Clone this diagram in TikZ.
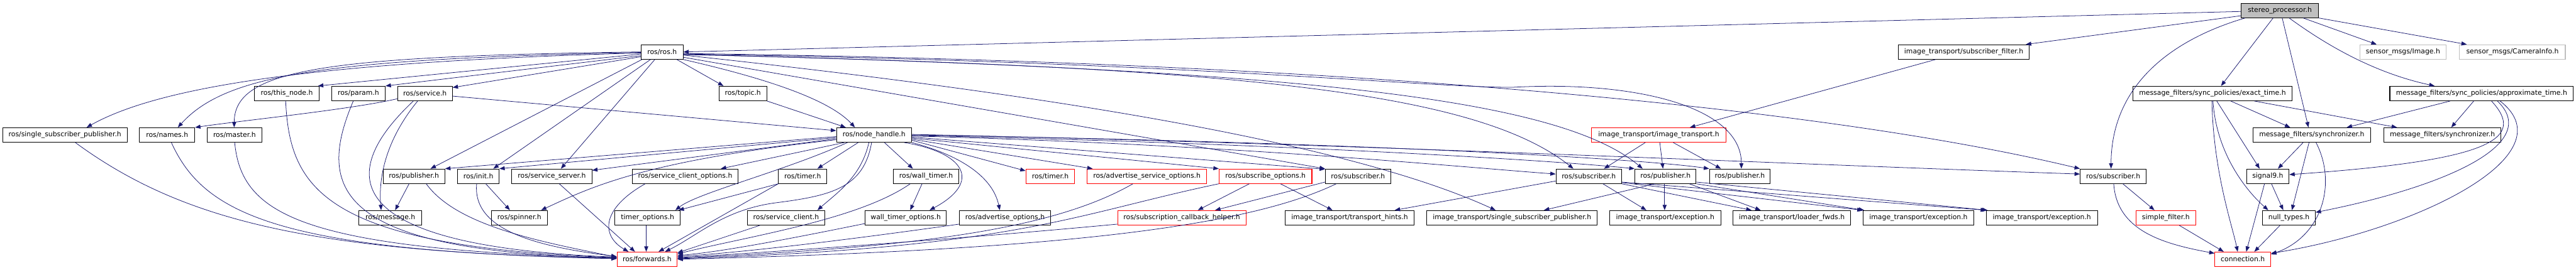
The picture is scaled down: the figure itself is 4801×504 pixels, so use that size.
\documentclass[tikz,border=0pt]{standalone}
\usepackage{fontspec}
\setmainfont{DejaVu Sans}
\usetikzlibrary{arrows.meta}
\definecolor{edgecol}{RGB}{25,25,112}
\definecolor{graybox}{RGB}{191,191,191}
\begin{document}
\begin{tikzpicture}[x=1pt,y=-1pt,
  box/.style={draw=black,line width=1.2pt,fill=white,minimum height=27pt,inner sep=0pt,font=\fontsize{12.7}{15}\selectfont,text=black},
  redbox/.style={box,draw=red},
  lgbox/.style={box,draw=graybox},
  e/.style={draw=edgecol,line width=0.9pt,-{Triangle[length=10pt,width=7.5pt]}}]
\useasboundingbox (0,0) rectangle (4801,504);
% row 0
\node[box,fill=graybox,minimum width=144pt] (sp) at (4249,19.5) {stereo\_processor.h};
% row 1
\node[box,minimum width=78pt] (ros) at (1234,97) {ros/ros.h};
\node[box,minimum width=244pt] (itsf) at (3660,97) {image\_transport/subscriber\_filter.h};
\node[lgbox,minimum width=161pt] (smimg) at (4478.5,97) {sensor\_msgs/Image.h};
\node[lgbox,minimum width=197pt] (smci) at (4682.5,97) {sensor\_msgs/CameraInfo.h};
% row 2
\node[box,minimum width=121pt] (thisnode) at (534.5,174.5) {ros/this\_node.h};
\node[box,minimum width=100pt] (param) at (668,174.5) {ros/param.h};
\node[box,minimum width=102pt] (service) at (792,174.5) {ros/service.h};
\node[box,minimum width=89pt] (topic) at (1384.5,174.5) {ros/topic.h};
\node[box,minimum width=297pt] (et) at (4123.5,174.5) {message\_filters/sync\_policies/exact\_time.h};
\node[box,minimum width=342pt] (at) at (4625,174.5) {message\_filters/sync\_policies/approximate\_time.h};
% row 3
\node[box,minimum width=232pt] (ssp) at (121,252) {ros/single\_subscriber\_publisher.h};
\node[box,minimum width=103pt] (names) at (311.5,252) {ros/names.h};
\node[box,minimum width=102pt] (master) at (437,252) {ros/master.h};
\node[box,minimum width=140pt] (nh) at (1629,252) {ros/node\_handle.h};
\node[redbox,minimum width=251pt] (it) at (3091.5,252) {image\_transport/image\_transport.h};
\node[box,minimum width=219pt] (sync1) at (4308.5,252) {message\_filters/synchronizer.h};
\node[box,minimum width=218pt] (sync2) at (4552,252) {message\_filters/synchronizer.h};
% row 4
\node[box,minimum width=115pt] (pubL) at (771.5,329) {ros/publisher.h};
\node[box,minimum width=77pt] (init) at (891.5,329) {ros/init.h};
\node[box,minimum width=149pt] (sserver) at (1028.5,329) {ros/service\_server.h};
\node[box,minimum width=198pt] (sco) at (1277,329) {ros/service\_client\_options.h};
\node[box,minimum width=90pt] (timerB) at (1496,329) {ros/timer.h};
\node[box,minimum width=122pt] (wtimer) at (1726,329) {ros/wall\_timer.h};
\node[redbox,minimum width=91pt] (timerR) at (1957.5,329) {ros/timer.h};
\node[redbox,minimum width=223pt] (aso) at (2137.5,329) {ros/advertise\_service\_options.h};
\node[redbox,minimum width=173pt] (subo) at (2358.5,329) {ros/subscribe\_options.h};
\node[box,minimum width=122pt] (sub1) at (2531,329) {ros/subscriber.h};
\node[box,minimum width=122pt] (sub2) at (2961,329) {ros/subscriber.h};
\node[box,minimum width=114pt] (pub2) at (3104,329) {ros/publisher.h};
\node[box,minimum width=113pt] (pub3) at (3242.5,329) {ros/publisher.h};
\node[box,minimum width=123pt] (sub3) at (3938.5,329) {ros/subscriber.h};
\node[box,minimum width=79pt] (sig9) at (4226.5,329) {signal9.h};
% row 5
\node[box,minimum width=117pt] (message) at (727.5,406.5) {ros/message.h};
\node[box,minimum width=104pt] (spinner) at (968,406.5) {ros/spinner.h};
\node[box,minimum width=122pt] (topt) at (1207,406.5) {timer\_options.h};
\node[box,minimum width=144pt] (sclient) at (1465,406.5) {ros/service\_client.h};
\node[box,minimum width=152pt] (wto) at (1688,406.5) {wall\_timer\_options.h};
\node[box,minimum width=170pt] (ao) at (1873,406.5) {ros/advertise\_options.h};
\node[redbox,minimum width=239pt] (scbh) at (2202.5,406.5) {ros/subscription\_callback\_helper.h};
\node[box,minimum width=241pt] (th) at (2515.5,406.5) {image\_transport/transport\_hints.h};
\node[box,minimum width=318pt] (itssp) at (2818,406.5) {image\_transport/single\_subscriber\_publisher.h};
\node[box,minimum width=207pt] (exc1) at (3103.5,406.5) {image\_transport/exception.h};
\node[box,minimum width=219pt] (lf) at (3339.5,406.5) {image\_transport/loader\_fwds.h};
\node[box,minimum width=207pt] (exc2) at (3575.5,406.5) {image\_transport/exception.h};
\node[box,minimum width=207pt] (exc3) at (3805.5,406.5) {image\_transport/exception.h};
\node[redbox,minimum width=111pt] (sf) at (4036.5,406.5) {simple\_filter.h};
\node[box,minimum width=98pt] (nt) at (4266,406.5) {null\_types.h};
% row 6
\node[redbox,minimum width=112pt] (fwd) at (1206,484) {ros/forwards.h};
\node[redbox,minimum width=104pt] (conn) at (4180,484) {connection.h};

% ---- stereo_processor.h
\draw[e] ([yshift=-16]sp.north west) -- (ros.east);
\draw[e] ([yshift=-24]sp.north west) -- ([xshift=-7]itsf.north east);
\draw[e] ([xshift=8]sp.south west) .. controls (4060,70) and (3935,150) .. ([xshift=58]sub3.north west);
\draw[e] ([xshift=60]sp.south west) -- ([xshift=165]et.north west);
\draw[e] ([xshift=77]sp.south west) -- ([xshift=104]sync1.north west);
\draw[e] ([xshift=90]sp.south west) .. controls (4330,80) and (4420,135) .. ([xshift=84]at.north west);
\draw[e] ([xshift=116]sp.south west) -- ([xshift=32]smimg.north west);
\draw[e] (sp.south east) -- ([xshift=14]smci.north west);
% ---- subscriber_filter / image_transport
\draw[e] ([xshift=70]itsf.south west) -- ([xshift=184]it.north west);
\draw[e] ([xshift=101]it.south west) -- ([xshift=90]sub2.north west);
\draw[e] ([xshift=128]it.south west) -- ([xshift=53]pub2.north west);
\draw[e] ([xshift=153]it.south west) -- ([xshift=22]pub3.north west);
% ---- ros/ros.h
\draw[e] ([yshift=-16]ros.north west) .. controls (600,115) and (300,160) .. ([xshift=157]ssp.north west);
\draw[e] ([yshift=-15]ros.north west) .. controls (600,110) and (420,140) .. ([xshift=72]names.north west);
\draw[e] ([yshift=-14]ros.north west) .. controls (600,105) and (437,130) .. ([xshift=51]master.north west);
\draw[e] ([yshift=-18]ros.north west) -- ([xshift=-3]thisnode.north east);
\draw[e] ([yshift=-21]ros.north west) -- (param.north east);
\draw[e] ([yshift=-23]ros.north west) -- ([yshift=-3]service.north east);
\draw[e] ([xshift=2]ros.south west) -- ([xshift=89]pubL.north west);
\draw[e] ([xshift=18]ros.south west) -- ([xshift=67]init.north west);
\draw[e] ([xshift=26]ros.south west) -- ([xshift=92]sserver.north west);
\draw[e] ([xshift=67]ros.south west) -- ([xshift=9]topic.north west);
\draw[e] (ros.south east) .. controls (1400,140) and (1540,180) .. ([xshift=35]nh.north west);
\draw[e] ([yshift=-24]ros.north east) -- (sub1.north west);
\draw[e] ([yshift=-20]ros.north east) .. controls (1900,170) and (2500,260) .. ([xshift=129]itssp.north west);
\draw[e] ([yshift=-19]ros.north east) .. controls (2300,125) and (2750,170) .. ([xshift=33]sub2.north west);
\draw[e] ([yshift=-18.5]ros.north east) .. controls (2400,130) and (2900,180) .. ([xshift=15]pub2.north west);
\draw[e] ([yshift=-18]ros.north east) .. controls (2200,115) and (2650,163) .. (2818,163) .. controls (3050,150) and (3246,200) .. ([xshift=60]pub3.north west);
\draw[e] ([yshift=-17]ros.north east) .. controls (2500,115) and (3400,200) .. (sub3.north west);
% ---- topic, service
\draw[e] (topic.south east) -- ([xshift=18]nh.north west);
\draw[e] ([yshift=-19]service.north east) -- ([yshift=-6]nh.north west);
\draw[e] ([yshift=-24]service.north west) .. controls (650,205) and (450,225) .. (names.north east);
\draw[e] ([xshift=38]service.south west) .. controls (720,260) and (705,330) .. ([xshift=42]message.north west);
\draw[e] ([xshift=30]service.south west) .. controls (620,330) and (640,460) .. ([yshift=-10]fwd.north west);
% ---- node_handle
\draw[e] ([yshift=-17]nh.north west) -- (pubL.north east);
\draw[e] ([yshift=-19]nh.north west) -- (init.north east);
\draw[e] ([yshift=-21]nh.north west) -- ([yshift=-3]sserver.north east);
\draw[e] ([yshift=-23]nh.north west) .. controls (1200,300) and (1100,350) .. ([xshift=93]spinner.north west);
\draw[e] ([xshift=15]nh.south west) -- ([xshift=166]sco.north west);
\draw[e] ([xshift=21]nh.south west) .. controls (1460,320) and (1300,360) .. ([xshift=-10]topt.north east);
\draw[e] ([xshift=41]nh.south west) -- ([xshift=73]timerB.north west);
\draw[e] ([xshift=61]nh.south west) .. controls (1605,330) and (1560,360) .. ([xshift=131]sclient.north west);
\draw[e] ([xshift=66]nh.south west) .. controls (1610,350) and (1550,365) .. (1450,378) .. controls (1350,390) and (1300,440) .. ([xshift=90]fwd.north west);
\draw[e] ([xshift=90]nh.south west) -- ([xshift=37]wtimer.north west);
\draw[e] ([xshift=127]nh.south west) .. controls (1800,285) and (1830,340) .. ([xshift=121]wto.north west);
\draw[e] (nh.south east) .. controls (1790,290) and (1850,330) .. ([xshift=76]ao.north west);
\draw[e] ([yshift=-24]nh.north east) -- ([yshift=-4]timerR.north west);
\draw[e] ([yshift=-22]nh.north east) -- ([xshift=11]aso.north west);
\draw[e] ([yshift=-20]nh.north east) -- (subo.north west);
\draw[e] ([yshift=-18]nh.north east) -- ([yshift=-1]sub1.north west);
\draw[e] ([yshift=-16]nh.north east) .. controls (2300,270) and (2700,310) .. ([yshift=-10]sub2.north west);
\draw[e] ([yshift=-15]nh.north east) .. controls (2400,268) and (2900,300) .. (pub2.north west);
\draw[e] ([yshift=-14]nh.north east) .. controls (2500,265) and (3050,295) .. (pub3.north west);
\draw[e] ([yshift=-13]nh.north east) .. controls (2500,268) and (3300,305) .. ([yshift=-10]sub3.north west);
% ---- into ros/forwards.h from the left
\draw[e] ([xshift=59]thisnode.south west) .. controls (540,350) and (600,460) .. ([yshift=-11]fwd.north west);
\draw[e] ([xshift=41]param.south west) .. controls (590,350) and (620,470) .. ([yshift=-11.5]fwd.north west);
\draw[e] ([xshift=136]ssp.south west) .. controls (350,420) and (600,470) .. ([yshift=-13]fwd.north west);
\draw[e] ([xshift=60]names.south west) .. controls (380,400) and (520,470) .. ([yshift=-12.5]fwd.north west);
\draw[e] ([xshift=52]master.south west) .. controls (450,400) and (560,465) .. ([yshift=-12]fwd.north west);
\draw[e] ([xshift=81]pubL.south west) .. controls (850,420) and (1000,450) .. ([yshift=-10]fwd.north west);
\draw[e] ([xshift=49]pubL.south west) -- ([xshift=68]message.north west);
\draw[e] ([xshift=36]init.south west) .. controls (880,430) and (1000,460) .. ([yshift=-9]fwd.north west);
\draw[e] ([xshift=53]init.south west) -- ([xshift=35]spinner.north west);
\draw[e] ([xshift=89]sserver.south west) -- ([xshift=34]fwd.north west);
\draw[e] ([xshift=25]sco.south west) .. controls (1120,390) and (1120,440) .. ([xshift=22]fwd.north west);
\draw[e] (timerB.south west) -- ([xshift=-4]topt.north east);
\draw[e] (timerB.south west) -- ([xshift=78]fwd.north west);
\draw[e] ([xshift=59]topt.south west) -- ([xshift=55]fwd.north west);
\draw[e] ([xshift=24]sclient.south west) -- ([yshift=-2]fwd.north east);
% ---- into ros/forwards.h from the right
\draw[e] ([xshift=54]wtimer.south west) -- ([xshift=85]wto.north west);
\draw[e] ([xshift=32]wtimer.south west) .. controls (1600,410) and (1400,440) .. ([yshift=-4]fwd.north east);
\draw[e] ([yshift=-25]wto.north west) .. controls (1500,440) and (1350,470) .. ([yshift=-7]fwd.north east);
\draw[e] ([yshift=-26]ao.north west) .. controls (1600,445) and (1400,470) .. ([yshift=-9]fwd.north east);
\draw[e] ([yshift=-26]scbh.north west) .. controls (1800,445) and (1450,470) .. ([yshift=-11]fwd.north east);
\draw[e] ([xshift=86]aso.south west) .. controls (1960,430) and (1700,462) .. ([yshift=-12]fwd.north east);
\draw[e] (subo.south west) .. controls (2000,400) and (1900,462) .. ([yshift=-13]fwd.north east);
\draw[e] ([xshift=21]sub1.south west) .. controls (2330,420) and (2000,466) .. ([yshift=-14]fwd.north east);
\draw[e] ([xshift=57]subo.south west) -- ([xshift=150]scbh.north west);
\draw[e] ([xshift=115]subo.south west) -- ([xshift=89]th.north west);
\draw[e] ([yshift=-25]sub1.north west) -- ([xshift=-58]scbh.north east);
% ---- image_transport lower part
\draw[e] ([yshift=-23]sub2.north west) -- ([xshift=205]th.north west);
\draw[e] ([xshift=88]sub2.south west) -- ([xshift=69]exc1.north west);
\draw[e] (sub2.south east) -- ([xshift=35]lf.north west);
\draw[e] ([yshift=-26]sub2.north east) -- (exc2.north west);
\draw[e] ([yshift=-25]sub2.north east) -- (exc3.north west);
\draw[e] ([xshift=56]pub2.south west) -- ([xshift=103]exc1.north west);
\draw[e] ([xshift=38]pub2.south west) -- ([xshift=219]itssp.north west);
\draw[e] ([xshift=102]pub2.south west) -- ([xshift=52]lf.north west);
\draw[e] (pub2.south east) -- ([xshift=3]exc2.north west);
\draw[e] ([yshift=-25]pub2.north east) -- ([xshift=3]exc3.north west);
% ---- message_filters
\draw[e] ([xshift=80]sub3.south west) -- ([xshift=35]sf.north west);
\draw[e] ([xshift=63]sub3.south west) .. controls (3945,430) and (4030,455) .. ([yshift=-3]conn.north west);
\draw[e] ([xshift=81]sf.south west) -- ([xshift=17]conn.north west);
\draw[e] ([xshift=183]et.south west) -- ([xshift=70]sync1.north west);
\draw[e] ([xshift=227]et.south west) -- ([xshift=25]sync2.north west);
\draw[e] ([xshift=157]et.south west) -- ([xshift=25]sig9.north west);
\draw[e] ([xshift=150]et.south west) .. controls (4130,280) and (4180,350) .. ([xshift=11]nt.north west);
\draw[e] ([xshift=148]et.south west) .. controls (4125,320) and (4160,420) .. ([xshift=43]conn.north west);
\draw[e] ([xshift=113]at.south west) -- ([xshift=-45]sync1.north east);
\draw[e] ([xshift=157]at.south west) -- ([xshift=126]sync2.north west);
\draw[e] ([xshift=190]at.south west) .. controls (4710,260) and (4640,300) .. ([yshift=-11]sig9.north east);
\draw[e] ([xshift=201]at.south west) .. controls (4740,270) and (4550,350) .. ([yshift=-4]nt.north east);
\draw[e] ([xshift=206]at.south west) .. controls (4790,290) and (4500,430) .. ([yshift=-3]conn.north east);
\draw[e] ([xshift=94]sync1.south west) -- ([xshift=59]sig9.north west);
\draw[e] ([xshift=105]sync1.south west) -- ([xshift=55]nt.north west);
\draw[e] ([xshift=118]sync1.south west) .. controls (4355,340) and (4330,440) .. ([yshift=-5]conn.north east);
\draw[e] ([xshift=47]sig9.south west) -- ([xshift=39]nt.north west);
\draw[e] ([xshift=34]sig9.south west) -- ([xshift=59]conn.north west);
\draw[e] ([xshift=33]nt.south west) -- ([xshift=74]conn.north west);
\end{tikzpicture}
\end{document}
